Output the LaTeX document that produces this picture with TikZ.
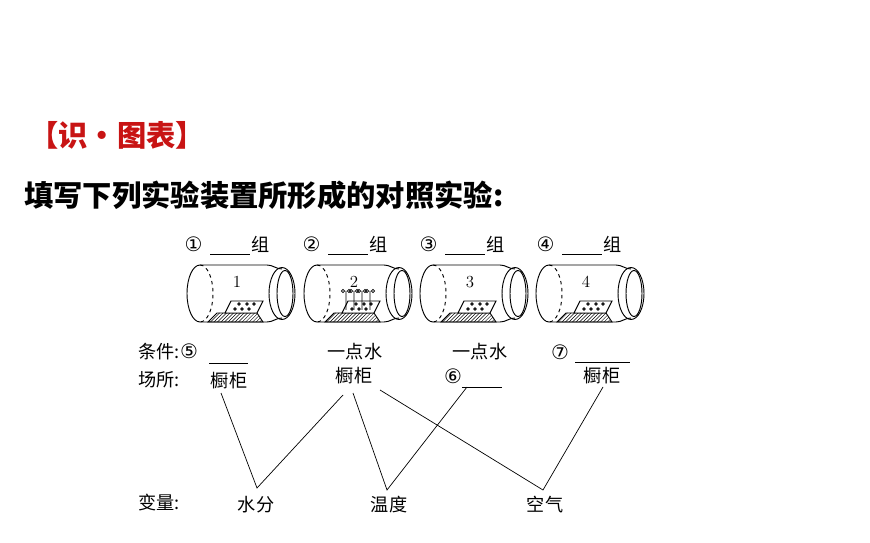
\documentclass[tikz,border=0pt]{standalone}
\usepackage{fontspec}
\usepackage{tikz}
\usetikzlibrary{patterns}
\newfontfamily\cjk{Noto Sans CJK SC}
\newfontfamily\circfont{DejaVu Sans}
\newcommand\cnum[1]{{\circfont\fontsize{17}{17}\selectfont #1}}
\definecolor{title_red}{RGB}{200,20,20}
\newcommand\jar[2]{%
  \begin{scope}[shift={(#1,0)}]
    \draw (13,265) -- (80,265) to[out=0,in=180] (95,269);
    \draw (13,322) -- (80,322) to[out=0,in=180] (95,318);
    \draw (13,265) arc[start angle=270,end angle=90,x radius=13,y radius=28.5];
    \draw[dashed] (13,265) arc[start angle=270,end angle=450,x radius=13,y radius=28.5];
    \draw (95,293.5) ellipse[x radius=13,y radius=26];
    \draw (98,293.5) ellipse[x radius=8,y radius=23];
    \draw[pattern=north east lines] (21,322) -- (30,313) -- (70,313) -- (76,322) -- cycle;
    \draw[fill=white] (38,313) -- (44,301) -- (76,301) -- (70,313) -- cycle;
    \foreach \cx/\cy in {48/309,55/309,62/309,52/304,60/304,67/304}
      \draw (\cx,\cy) circle[radius=1.3];
    \node[font=\rmfamily\Large] at (50,282) {#2};
  \end{scope}}
\begin{document}
\begin{tikzpicture}[x=0.03cm,y=-0.03cm,line width=0.8pt]
  \tikzstyle{title}=[font=\cjk\bfseries\fontsize{25}{25}\selectfont,anchor=west]
  \tikzstyle{lab}=[font=\cjk\fontsize{15.5}{16}\selectfont,inner sep=1pt]
  \useasboundingbox (0,0) rectangle (870,543);

  \node[title,text=title_red] (head) at (25,135) {【识·图表】};
  \node[title] (task) at (20,195) {填写下列实验装置所形成的对照实验:};

  % jars
  \jar{187}{1}
  \jar{304}{2}
  \jar{420}{3}
  \jar{536}{4}
  % plants in jar 2
  \foreach \px in {346,354,362,370}
    \draw[line width=0.5pt] (\px,310) -- (\px,291) (\px-3,291) circle[radius=1.6] (\px+3,291) circle[radius=1.6];

  % group labels
  \foreach \i/\gx/\c in {1/183/①,2/301/②,3/418/③,4/535/④}{
    \node[lab,anchor=west] (g\i) at (\gx,244) {\cnum{\c}};
    \draw (\gx+27,254) -- (\gx+67,254);
    \node[lab,anchor=west] (z\i) at (\gx+67,244) {组};
  }

  % conditions and places
  \node[lab,anchor=west] (cond) at (137,352) {条件:\cnum{⑤}};
  \draw (209,363) -- (248,363);
  \node[lab,anchor=west] (place) at (137,380) {场所:};
  \node[lab] (p1) at (229,381) {橱柜};
  \node[lab] (c2) at (355,352) {一点水};
  \node[lab] (p2) at (354,376) {橱柜};
  \node[lab] (c3) at (480,352) {一点水};
  \node[lab] (n6) at (453,376) {\cnum{⑥}};
  \coordinate (u6) at (467,387);
  \draw (462,387) -- (502,387);
  \node[lab] (n7) at (560,352) {\cnum{⑦}};
  \draw (575,362) -- (630,362);
  \node[lab] (p4) at (602,376) {橱柜};

  % variables
  \node[lab,anchor=west] (var) at (137,503) {变量:};
  \node[lab] (v1) at (256,505) {水分};
  \node[lab] (v2) at (389,505) {温度};
  \node[lab] (v3) at (545,505) {空气};

  \draw[line width=0.6pt] (221,393) -- (257,488) -- (343,395);
  \draw[line width=0.6pt] (353,393) -- (387,490) -- (u6);
  \draw[line width=0.6pt] (380,390) -- (543,490) -- (603,387);
\end{tikzpicture}
\end{document}
